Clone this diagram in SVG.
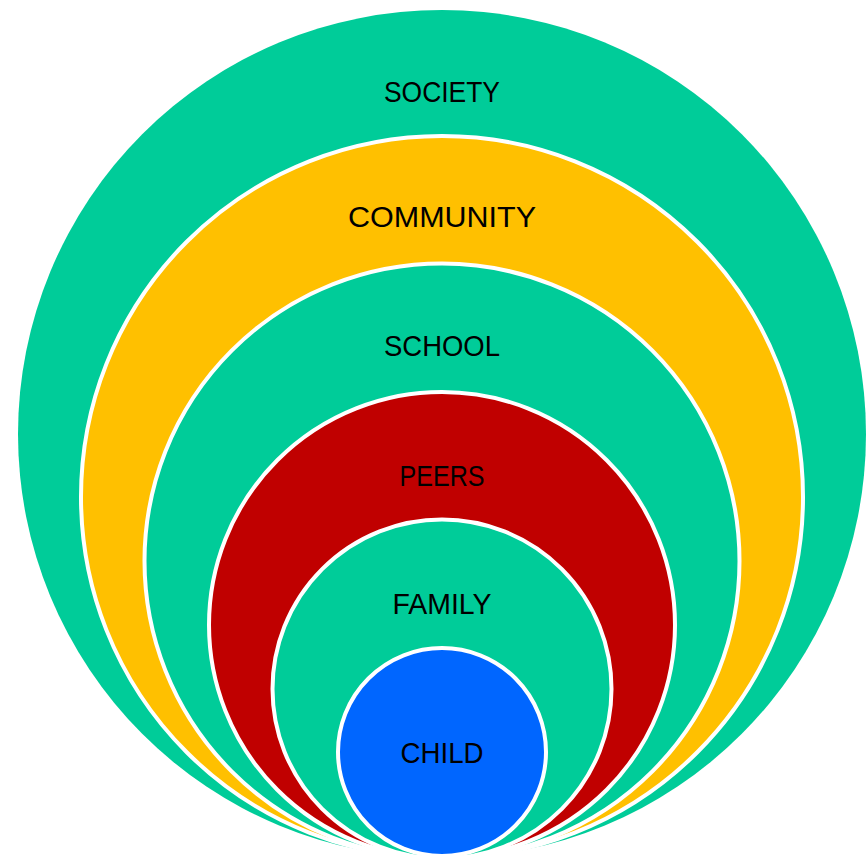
<svg xmlns="http://www.w3.org/2000/svg" width="866" height="858" viewBox="0 0 866 858">
<style>
.ring{stroke:#fff;stroke-width:4}
.g{fill:#00CC99}.y{fill:#FFC000}.r{fill:#C00000}.b{fill:#0066FF}
text{font-family:"Liberation Sans",Arial,sans-serif;font-size:30px;fill:#000;text-anchor:middle}
</style>
<rect width="866" height="858" fill="#fff"/>
<g id="society"><circle class="g" cx="442" cy="434" r="424"/><text x="442" y="102" textLength="116" lengthAdjust="spacingAndGlyphs">SOCIETY</text></g>
<g id="community"><circle class="ring y" cx="442" cy="497" r="361"/><text x="442" y="227" textLength="188" lengthAdjust="spacingAndGlyphs">COMMUNITY</text></g>
<g id="school"><circle class="ring g" cx="442" cy="561" r="297.5"/><text x="442" y="356" textLength="116" lengthAdjust="spacingAndGlyphs">SCHOOL</text></g>
<g id="peers"><circle class="ring r" cx="442" cy="625" r="233"/><text x="442" y="486" textLength="85" lengthAdjust="spacingAndGlyphs">PEERS</text></g>
<g id="family"><circle class="ring g" cx="442" cy="689" r="169.5"/><text x="442" y="614" textLength="99" lengthAdjust="spacingAndGlyphs">FAMILY</text></g>
<g id="child"><circle class="ring b" cx="442" cy="752" r="104"/><text x="442" y="763" textLength="83" lengthAdjust="spacingAndGlyphs">CHILD</text></g>
<g id="connectors"/>
</svg>
